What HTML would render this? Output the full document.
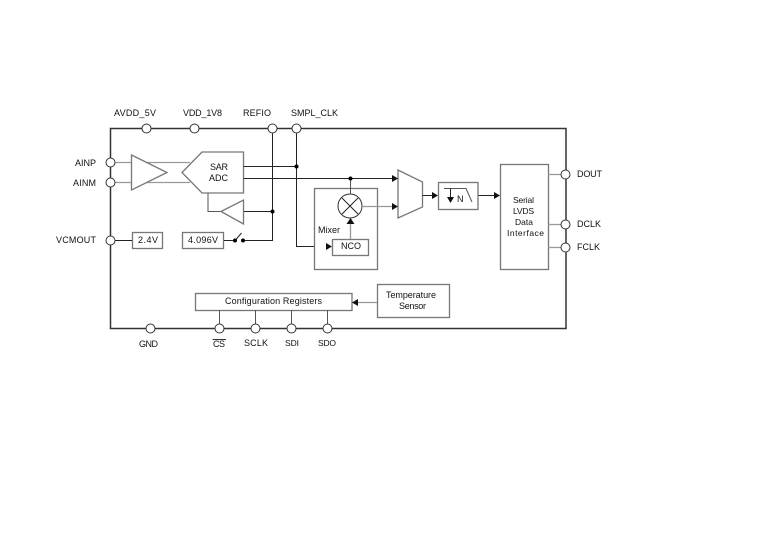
<!DOCTYPE html>
<html><head><meta charset="utf-8"><style>
html,body{margin:0;padding:0;background:#fff}
svg{display:block}
text{font-family:"Liberation Sans",sans-serif;font-size:9px;fill:#111}
.s{font-size:8.500px}
.o{fill:#fff;stroke:#777;stroke-width:1.3}
.g{fill:none;stroke:#999;stroke-width:1.3}
.k{fill:none;stroke:#222;stroke-width:1}
.p{fill:#fff;stroke:#333;stroke-width:1}
</style></head><body>
<svg width="773" height="533" viewBox="0 0 773 533" xmlns="http://www.w3.org/2000/svg">
<rect x="110.5" y="128.5" width="455.5" height="200" fill="none" stroke="#333" stroke-width="1.5"/>
<path class="g" d="M110 162.500H190M110 182.500H190"/>
<polygon class="o" points="131.500,155 167,172.500 131.500,190"/>
<polygon class="o" points="182,172.500 202,152 243.500,152 243.500,193 202,193"/>
<path class="k" d="M243.500 166.500H296M243.500 178.500H392M272.500 128V240.500H243M296.500 128V246.500H326M243 211.500H272.500"/>
<path class="k" style="stroke:#555" d="M208 193V211.500H221"/>
<polygon class="o" points="221,211.500 243.500,200 243.500,224"/>
<circle cx="296.500" cy="166.500" r="2"/><circle cx="272.500" cy="211.500" r="2"/>
<rect class="o" x="132.500" y="232.500" width="30" height="16"/>
<rect class="o" x="182.500" y="232.500" width="41" height="16"/>
<path class="k" d="M110 240.500H132M224 240.500H235M235 240.500L241.500 233"/>
<circle cx="235" cy="240.500" r="2"/><circle cx="243" cy="240.500" r="2"/>
<rect class="o" x="314.500" y="188.500" width="63" height="81"/>
<path class="k" d="M350.500 178.500V194" style="stroke:#555"/>
<circle cx="350.500" cy="178.500" r="2"/>
<circle cx="350" cy="206" r="12" fill="#fff" stroke="#333" stroke-width="1"/>
<path class="k" d="M342 198L358 214M358 198L342 214"/>
<path class="g" d="M362 206.500H393M350.500 239V222"/>
<polygon points="350.500,218 346.500,224 354.500,224" fill="#111"/>
<rect class="o" x="332.500" y="239.500" width="36" height="16"/>
<polygon points="332,246.500 326,243 326,250" fill="#111"/>
<polygon class="o" points="398,170 422.500,182 422.500,207 398,218"/>
<polygon points="398,178.500 392,175 392,182" fill="#111"/>
<polygon points="398,206.500 392,203 392,210" fill="#111"/>
<path class="k" d="M422.500 195.500H433M478 195.500H494"/>
<polygon points="438,195.500 432,192 432,199" fill="#111"/>
<rect class="o" x="438.500" y="182.500" width="39.500" height="27"/>
<path class="k" style="stroke:#555" d="M444 188.500H466L472 202"/>
<path class="k" d="M450.500 188.500V198"/>
<polygon points="450.500,203 447,197 454,197" fill="#111"/>
<polygon points="500,195.500 494,192 494,199" fill="#111"/>
<rect class="o" x="500.500" y="164.500" width="48" height="105"/>
<path class="g" d="M548 174.500H565M548 224.500H565M548 247.500H565"/>
<rect class="o" x="195.500" y="293.500" width="156.500" height="17"/>
<rect class="o" x="377.500" y="284.500" width="72" height="33"/>
<path class="g" d="M377 302.500H358"/>
<polygon points="352,302.500 358,299 358,306" fill="#111"/>
<path class="k" style="stroke:#555" d="M219.500 310V328M255.500 310V328M291.500 310V328M327.500 310V328"/>
<circle class="p" cx="146.500" cy="128.500" r="4.500"/><circle class="p" cx="194.500" cy="128.500" r="4.500"/>
<circle class="p" cx="272.500" cy="128.500" r="4.500"/><circle class="p" cx="296.500" cy="128.500" r="4.500"/>
<circle class="p" cx="110.500" cy="162.500" r="4.500"/><circle class="p" cx="110.500" cy="182.500" r="4.500"/>
<circle class="p" cx="110.500" cy="240.500" r="4.500"/>
<circle class="p" cx="565.500" cy="174.500" r="4.500"/><circle class="p" cx="565.500" cy="224.500" r="4.500"/>
<circle class="p" cx="565.500" cy="247.500" r="4.500"/>
<circle class="p" cx="150.500" cy="328.500" r="4.500"/><circle class="p" cx="219.500" cy="328.500" r="4.500"/>
<circle class="p" cx="255.500" cy="328.500" r="4.500"/><circle class="p" cx="291.500" cy="328.500" r="4.500"/>
<circle class="p" cx="327.500" cy="328.500" r="4.500"/>
<text x="114" y="116" textLength="42">AVDD_5V</text>
<text x="183" y="116" textLength="39">VDD_1V8</text>
<text x="243" y="116" textLength="28">REFIO</text>
<text x="291" y="116" textLength="47">SMPL_CLK</text>
<text x="75" y="166" textLength="21">AINP</text>
<text x="73" y="186" textLength="23">AINM</text>
<text x="56" y="243" textLength="40">VCMOUT</text>
<text x="210" y="170" textLength="18">SAR</text>
<text x="209" y="181" textLength="19">ADC</text>
<text x="138" y="243" textLength="20">2.4V</text>
<text x="188" y="243" textLength="30">4.096V</text>
<text x="577" y="177" textLength="25">DOUT</text>
<text x="577" y="227" textLength="24">DCLK</text>
<text x="577" y="250" textLength="23">FCLK</text>
<text class="s" x="513" y="203" textLength="21">Serial</text>
<text class="s" x="513" y="214" textLength="21">LVDS</text>
<text class="s" x="515" y="225" textLength="18">Data</text>
<text class="s" x="507" y="236" textLength="37">Interface</text>
<text x="318" y="233" textLength="22">Mixer</text>
<text x="341" y="249" textLength="20">NCO</text>
<text x="457" y="202" textLength="6">N</text>
<text x="225" y="304" textLength="97">Configuration Registers</text>
<text x="386" y="298" textLength="50">Temperature</text>
<text x="399" y="309" textLength="27">Sensor</text>
<text x="139" y="347" textLength="19">GND</text>
<text x="213" y="347" textLength="12">CS</text>
<path d="M212.500 339.500H226" stroke="#333" stroke-width="1"/>
<text x="244" y="346" textLength="24">SCLK</text>
<text class="s" x="285" y="346" textLength="14">SDI</text>
<text class="s" x="318" y="346" textLength="18">SDO</text>
</svg>
</body></html>
